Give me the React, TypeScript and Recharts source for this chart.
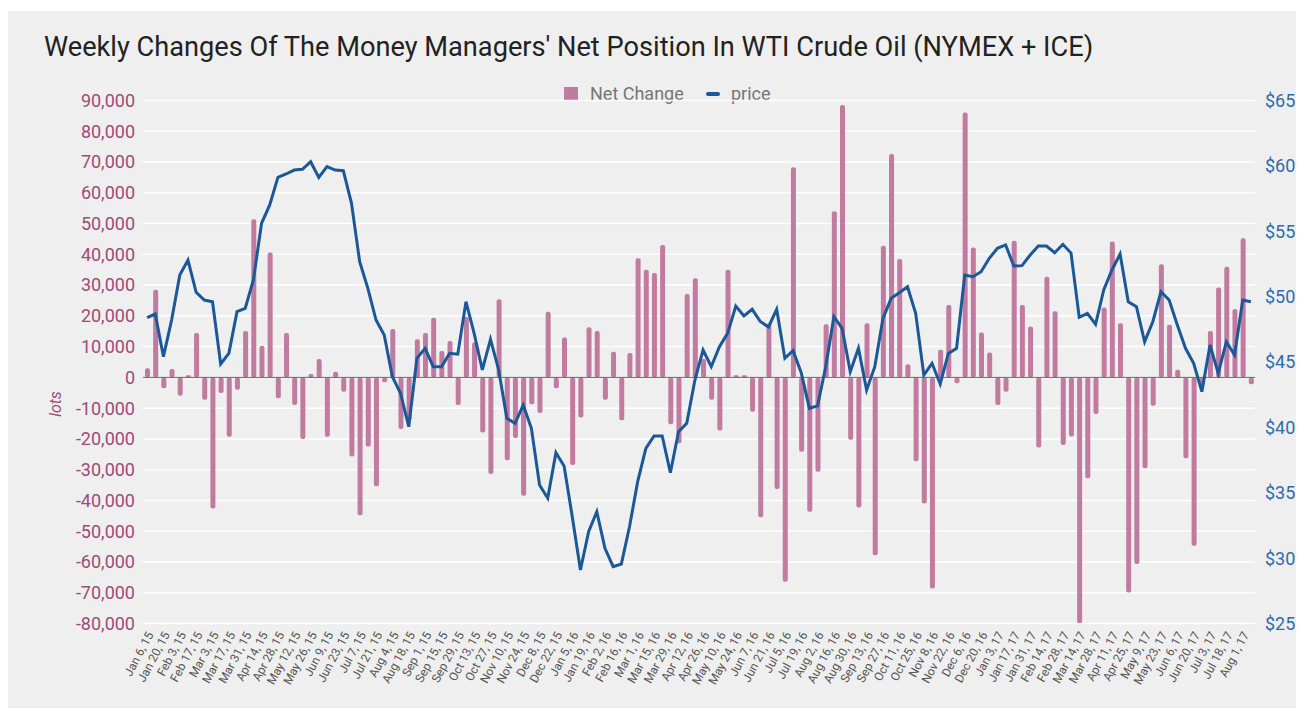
import React from 'react';
import { ComposedChart, Bar, Line, XAxis, YAxis, CartesianGrid, ReferenceLine } from 'recharts';

const dates = [
  'Jan 6, 15','Jan 13, 15','Jan 20, 15','Jan 27, 15','Feb 3, 15','Feb 10, 15','Feb 17, 15','Feb 24, 15',
  'Mar 3, 15','Mar 10, 15','Mar 17, 15','Mar 24, 15','Mar 31, 15','Apr 7, 15','Apr 14, 15','Apr 21, 15',
  'Apr 28, 15','May 5, 15','May 12, 15','May 19, 15','May 26, 15','Jun 2, 15','Jun 9, 15','Jun 16, 15',
  'Jun 23, 15','Jun 30, 15','Jul 7, 15','Jul 14, 15','Jul 21, 15','Jul 28, 15','Aug 4, 15','Aug 11, 15',
  'Aug 18, 15','Aug 25, 15','Sep 1, 15','Sep 8, 15','Sep 15, 15','Sep 22, 15','Sep 29, 15','Oct 6, 15',
  'Oct 13, 15','Oct 20, 15','Oct 27, 15','Nov 3, 15','Nov 10, 15','Nov 17, 15','Nov 24, 15','Dec 1, 15',
  'Dec 8, 15','Dec 15, 15','Dec 22, 15','Dec 29, 15',
  'Jan 5, 16','Jan 12, 16','Jan 19, 16','Jan 26, 16','Feb 2, 16','Feb 9, 16','Feb 16, 16','Feb 23, 16',
  'Mar 1, 16','Mar 8, 16','Mar 15, 16','Mar 22, 16','Mar 29, 16','Apr 5, 16','Apr 12, 16','Apr 19, 16',
  'Apr 26, 16','May 3, 16','May 10, 16','May 17, 16','May 24, 16','May 31, 16','Jun 7, 16','Jun 14, 16',
  'Jun 21, 16','Jun 28, 16','Jul 5, 16','Jul 12, 16','Jul 19, 16','Jul 26, 16','Aug 2, 16','Aug 9, 16',
  'Aug 16, 16','Aug 23, 16','Aug 30, 16','Sep 6, 16','Sep 13, 16','Sep 20, 16','Sep 27, 16','Oct 4, 16',
  'Oct 11, 16','Oct 18, 16','Oct 25, 16','Nov 1, 16','Nov 8, 16','Nov 15, 16','Nov 22, 16','Nov 29, 16',
  'Dec 6, 16','Dec 13, 16','Dec 20, 16','Dec 27, 16',
  'Jan 3, 17','Jan 10, 17','Jan 17, 17','Jan 24, 17','Jan 31, 17','Feb 7, 17','Feb 14, 17','Feb 21, 17',
  'Feb 28, 17','Mar 7, 17','Mar 14, 17','Mar 21, 17','Mar 28, 17','Apr 4, 17','Apr 11, 17','Apr 18, 17',
  'Apr 25, 17','May 2, 17','May 9, 17','May 16, 17','May 23, 17','May 30, 17','Jun 6, 17','Jun 13, 17',
  'Jun 20, 17','Jun 27, 17','Jul 3, 17','Jul 11, 17','Jul 18, 17','Jul 25, 17','Aug 1, 17','Aug 8, 17',
];

const netChange = [
  3000, 28500, -3500, 2700, -6000, 700, 14400, -7300, -42600, -5100, -19300, -4000, 15100, 51400, 10300, 40600,
  -6800, 14400, -9000, -20000, 1100, 6000, -19300, 1800, -4700, -25700, -44800, -22500, -35400, -1600, 15700, -16800,
  -14000, 12400, 14400, 19400, 8600, 11800, -9000, 19600, 11400, -17900, -31400, 25400, -26900, -19700, -38500, -8700,
  -11600, 21300, -3500, 13000, -28500, -13000, 16300, 15100, -7300, 8300, -13900, 7900, 38700, 35000, 33900, 43000,
  -15200, -21400, 27100, 32200, 6000, -7300, -17300, 35000, 700, 700, -11200, -45500, 17500, -36300, -66400, 68300,
  -24200, -43700, -30700, 17300, 54000, 88500, -20300, -42300, 17600, -57800, 42800, 72600, 38500, 4300, -27300, -41000,
  -68600, 9000, 23500, -1900, 86100, 42200, 14600, 8100, -9000, -4700, 44400, 23500, 16500, -22800, 32700, 21500,
  -22000, -19200, -79900, -32800, -11900, 22700, 44200, 17600, -69900, -60700, -29500, -9200, 36800, 17100, 2500, -26300,
  -54700, -2500, 15100, 29200, 36000, 22200, 45200, -2200,
];

const price = [
  48.39, 48.67, 45.41, 48.21, 51.65, 52.8, 50.33, 49.74, 49.61, 44.85, 45.66, 48.85, 49.1, 51.27, 55.61, 57.01,
  59.12, 59.38, 59.68, 59.74, 60.32, 59.12, 59.94, 59.68, 59.63, 57.14, 52.67, 50.63, 48.21, 47.07, 43.88, 42.6,
  40.05, 45.28, 46.05, 44.64, 44.64, 45.66, 45.6, 49.61, 47.19, 44.39, 46.74, 44.39, 40.69, 40.31, 41.71, 39.93,
  35.59, 34.58, 38.06, 37.05, 33.17, 29.09, 32.02, 33.55, 30.75, 29.35, 29.55, 32.4, 35.85, 38.4, 39.34, 39.34,
  36.53, 39.67, 40.31, 43.62, 45.92, 44.64, 46.17, 47.19, 49.28, 48.52, 49.03, 48.1, 47.68, 49.03, 45.28, 45.87,
  44.18, 41.46, 41.64, 44.64, 48.47, 47.58, 44.26, 46.05, 42.86, 44.64, 48.34, 49.87, 50.3, 50.76, 48.72, 44.0,
  44.9, 43.32, 45.66, 46.05, 51.65, 51.52, 51.9, 52.93, 53.7, 53.95, 52.34, 52.37, 53.18, 53.87, 53.87, 53.36,
  54.0, 53.33, 48.42, 48.72, 47.88, 50.51, 52.04, 53.26, 49.61, 49.23, 46.55, 48.08, 50.38, 49.74, 47.83, 46.05,
  44.9, 42.73, 46.3, 44.13, 46.55, 45.53, 49.74, 49.61,
];

const lotsTicks = [-80000, -70000, -60000, -50000, -40000, -30000, -20000, -10000, 0, 10000, 20000, 30000, 40000, 50000, 60000, 70000, 80000, 90000];
const priceTicks = [25, 30, 35, 40, 45, 50, 55, 60, 65];

const TITLE = "Weekly Changes Of The Money Managers' Net Position In WTI Crude Oil (NYMEX + ICE)";

const data = dates.map((d, i) => ({ date: d, net: netChange[i], price: price[i] }));

const BAR_COLOR = '#c27ba0';
const LINE_COLOR = '#1b5898';
const FONT = 'Roboto, sans-serif';

const XTick = (props: any) => {
  const { x, y, payload } = props;
  return (
    <g transform={`translate(${x + 3},${y + 7})`}>
      <text x={0} y={0} dy="0.35em" textAnchor="end" transform="rotate(-62)" fill="#555" fontSize={12} fontFamily={FONT}>
        {payload.value}
      </text>
    </g>
  );
};

export default function App() {
  return (
    <div style={{ position: 'relative', top: 3, width: 1288, height: 700, background: '#efefef', fontFamily: FONT }}>
      <div style={{ position: 'absolute', left: 36, top: 22, fontSize: 27.2, lineHeight: '28px', color: '#222', whiteSpace: 'nowrap' }}>
        {TITLE}
      </div>
      <div style={{ position: 'absolute', left: 556, top: 76, width: 14, height: 14, background: BAR_COLOR }} />
      <div style={{ position: 'absolute', left: 582, top: 73, fontSize: 18, lineHeight: '20px', color: '#757575', whiteSpace: 'nowrap' }}>Net Change</div>
      <div style={{ position: 'absolute', left: 698, top: 81, width: 14, height: 4, borderRadius: 2, background: LINE_COLOR }} />
      <div style={{ position: 'absolute', left: 723, top: 73, fontSize: 18, lineHeight: '20px', color: '#757575', whiteSpace: 'nowrap' }}>price</div>
      <div style={{ position: 'absolute', left: 47, top: 393, transform: 'translate(-50%,-50%) rotate(-90deg)', fontSize: 16, fontStyle: 'italic', color: '#a04a78' }}>lots</div>
      <ComposedChart width={1288} height={700} data={data} margin={{ top: 89.5, right: 0, bottom: 7.5, left: 0 }} barCategoryGap={0}>
        <CartesianGrid yAxisId="left" vertical={false} stroke="#ffffff" strokeWidth={1.5} />
        <XAxis dataKey="date" interval={1} height={80} tickLine={false} axisLine={false} tickSize={0} tick={<XTick />} />
        <YAxis yAxisId="left" orientation="left" width={135} domain={[-80000, 90000]} ticks={lotsTicks}
          tickFormatter={(v: number) => v.toLocaleString('en-US')} axisLine={false} tickLine={false} tickSize={0} tickMargin={8}
          tick={{ fill: '#a04a78', fontSize: 18, fontFamily: FONT }} allowDataOverflow />
        <YAxis yAxisId="right" orientation="right" width={41} domain={[25, 65]} ticks={priceTicks}
          tickFormatter={(v: number) => `$${v}`} axisLine={false} tickLine={false} tickSize={0} tickMargin={10}
          tick={{ fill: '#2e6cab', fontSize: 18, fontFamily: FONT, textAnchor: 'start' }} allowDataOverflow />
        <ReferenceLine yAxisId="left" y={0} stroke="#666" strokeWidth={1} />
        <Bar yAxisId="left" dataKey="net" fill={BAR_COLOR} barSize={5} radius={2} isAnimationActive={false} />
        <Line yAxisId="right" dataKey="price" type="linear" stroke={LINE_COLOR} strokeWidth={3} dot={false} activeDot={false} isAnimationActive={false} />
      </ComposedChart>
    </div>
  );
}
